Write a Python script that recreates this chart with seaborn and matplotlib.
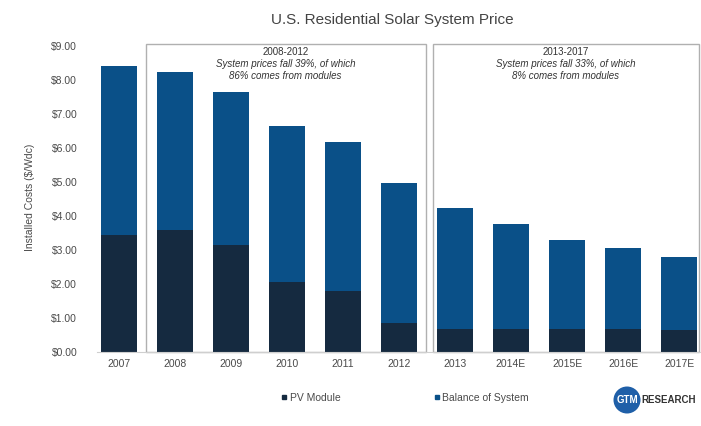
import matplotlib
matplotlib.use("Agg")
import matplotlib.pyplot as plt
from matplotlib.patches import Rectangle, Ellipse
from matplotlib.lines import Line2D
import seaborn as sns
import pandas as pd

# Installed cost per watt, split into module and balance-of-system parts
years = ["2007", "2008", "2009", "2010", "2011", "2012",
         "2013", "2014E", "2015E", "2016E", "2017E"]
pv_module = [3.45, 3.60, 3.15, 2.05, 1.78, 0.85, 0.68, 0.67, 0.67, 0.67, 0.64]
total_cost = [8.42, 8.24, 7.66, 6.66, 6.18, 4.97, 4.24, 3.76, 3.29, 3.06, 2.79]
balance_of_system = [t - p for t, p in zip(total_cost, pv_module)]
y_ticks = [0, 1, 2, 3, 4, 5, 6, 7, 8, 9]

notes = [
    ("2008-2012", "System prices fall 39%, of which", "86% comes from modules"),
    ("2013-2017", "System prices fall 33%, of which", "8% comes from modules"),
]

pv_color = "#152a40"
bos_color = "#0a5088"
text_color = "#4a4a4a"

df = pd.DataFrame({"year": years, "pv": pv_module,
                   "bos": balance_of_system, "total": total_cost})

sns.set_theme(style="white")
plt.rcParams["font.family"] = ["Liberation Sans", "DejaVu Sans"]

fig = plt.figure(figsize=(7.01, 4.26), dpi=100)
ax = fig.add_axes([0.138, 0.174, 0.862, 0.726])

# Stacked bars: full height in the BOS colour, module share drawn on top
sns.barplot(data=df, x="year", y="total", order=years, color=bos_color,
            width=0.64, saturation=1, ax=ax, linewidth=0)
sns.barplot(data=df, x="year", y="pv", order=years, color=pv_color,
            width=0.64, saturation=1, ax=ax, linewidth=0)

ax.set_xlim(-0.39, 10.39)
ax.set_ylim(0, 9.1)
ax.set_yticks(y_ticks)
ax.set_yticklabels([f"${v:.2f}" for v in y_ticks])
ax.tick_params(axis="both", labelsize=7.5, colors=text_color, length=0)
ax.tick_params(axis="y", pad=14)
ax.tick_params(axis="x", pad=5)
ax.set_xlabel("")
ax.set_ylabel("Installed Costs ($/Wdc)", fontsize=7.5, color=text_color,
              labelpad=12)
for s in ["top", "right", "left"]:
    ax.spines[s].set_visible(False)
ax.spines["bottom"].set_color("#cfcfcf")
ax.spines["bottom"].set_linewidth(0.8)

# Period boxes with their captions
boxes = [(0.48, 5.48), (5.60, 10.36)]
for (x0, x1), (head, line1, line2) in zip(boxes, notes):
    ax.add_patch(Rectangle((x0, 0), x1 - x0, 9.06, fill=False,
                           edgecolor="#b0b0b0", linewidth=1.0, clip_on=False,
                           zorder=0.5))
    cx = (x0 + x1) / 2
    ax.text(cx, 8.82, head, ha="center", va="center", fontsize=7,
            color="#333333")
    ax.text(cx, 8.47, line1, ha="center", va="center", fontsize=7,
            color="#333333", style="italic")
    ax.text(cx, 8.12, line2, ha="center", va="center", fontsize=7,
            color="#333333", style="italic")

fig.text(0.56, 0.953, "U.S. Residential Solar System Price", ha="center",
         va="center", fontsize=11, color="#444444")

# Legend
handles = [
    Line2D([], [], marker="s", linestyle="", markersize=3.5,
           markerfacecolor=pv_color, markeredgecolor=pv_color,
           label="PV Module"),
    Line2D([], [], marker="s", linestyle="", markersize=3.5,
           markerfacecolor=bos_color, markeredgecolor=bos_color,
           label="Balance of System"),
]
fig.legend(handles=handles, loc="center", bbox_to_anchor=(0.578, 0.066),
           ncol=2, frameon=False, fontsize=7.5, handlelength=0.6,
           handletextpad=0.2, columnspacing=9.0, labelcolor=text_color)

# Publisher mark
fig.patches.append(Ellipse((627 / 701, 1 - 400 / 426), 27 / 701, 27 / 426,
                           transform=fig.transFigure, facecolor="#1f5fa8",
                           edgecolor="none"))
fig.text(627 / 701, 1 - 400 / 426, "GTM", ha="center", va="center",
         fontsize=7, color="white", fontweight="bold")
fig.text(641 / 701, 1 - 400 / 426, "RESEARCH", ha="left", va="center",
         fontsize=7, color="#333333", fontweight="bold")

fig.savefig("out.png", dpi=100)
